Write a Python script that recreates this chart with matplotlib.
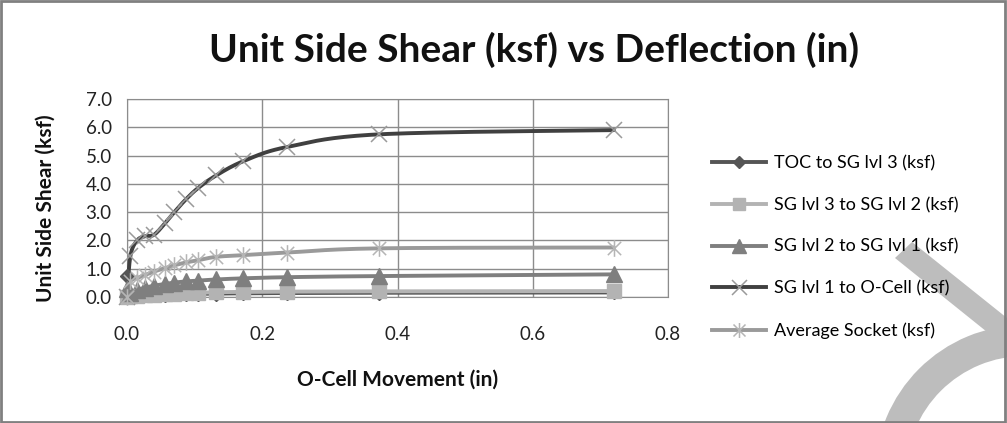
import numpy as np
import matplotlib
matplotlib.use("Agg")
import matplotlib.pyplot as plt
from matplotlib.path import Path
from matplotlib.patches import Wedge, Polygon, Rectangle
from matplotlib.lines import Line2D
from matplotlib.transforms import IdentityTransform

# ---------------- data ----------------
movement = [0.0, 0.005, 0.015, 0.027, 0.040, 0.056, 0.070, 0.087, 0.105, 0.132, 0.172, 0.236, 0.372, 0.720]
toc_sg3 = [0.75, 0.05, 0.05, 0.06, 0.07, 0.08, 0.09, 0.10, 0.11, 0.12, 0.13, 0.14, 0.15, 0.16]
sg3_sg2 = [0.0, 0.02, 0.04, 0.06, 0.08, 0.10, 0.12, 0.14, 0.15, 0.17, 0.18, 0.19, 0.20, 0.21]
sg2_sg1 = [0.30, 0.15, 0.25, 0.33, 0.40, 0.46, 0.51, 0.55, 0.58, 0.62, 0.66, 0.70, 0.74, 0.80]
sg1_ocell = [0.0, 1.45, 2.0, 2.15, 2.2, 2.6, 3.0, 3.45, 3.85, 4.3, 4.8, 5.3, 5.75, 5.9]
avg_socket = [0.0, 0.55, 0.67, 0.78, 0.90, 1.02, 1.12, 1.22, 1.30, 1.42, 1.48, 1.57, 1.72, 1.75]

series_names = ["TOC to SG lvl 3 (ksf)", "SG lvl 3 to SG lvl 2 (ksf)",
                "SG lvl 2 to SG lvl 1 (ksf)", "SG lvl 1 to O-Cell (ksf)",
                "Average Socket (ksf)"]
x_ticks = [0.0, 0.2, 0.4, 0.6, 0.8]
y_ticks = [0.0, 1.0, 2.0, 3.0, 4.0, 5.0, 6.0, 7.0]

W, H = 1007, 423
fig = plt.figure(figsize=(W / 100, H / 100), dpi=100)
FONT = "Lato"

def fx(px):
    return px / W

def fy(py):
    return 1 - py / H

# plot area
L, R, T, B = 127, 668, 99, 297
ax = fig.add_axes([fx(L), fy(B), (R - L) / W, (B - T) / H])
ax.set_xlim(0, 0.8)
ax.set_ylim(0, 7.0)
ax.set_xticks(x_ticks)
ax.set_yticks(y_ticks)
ax.set_xticklabels([f"{v:.1f}" for v in x_ticks], fontfamily=FONT, fontsize=13.5)
ax.set_yticklabels([f"{v:.1f}" for v in y_ticks], fontfamily=FONT, fontsize=13.5)
ax.tick_params(axis="x", length=0, pad=21, colors="#222222")
ax.tick_params(axis="y", length=0, pad=11, colors="#222222")
ax.grid(True, color="#8c8c8c", linewidth=1.0)
ax.set_axisbelow(True)
for s in ax.spines.values():
    s.set_color("#8c8c8c")

def smooth(xs, ys, n=20):
    xs = np.asarray(xs, float)
    ys = np.asarray(ys, float)
    sx = xs / 0.8 * (R - L)
    sy = ys / 7.0 * (B - T)
    P = np.column_stack([sx, sy])
    P = np.vstack([P[0], P, P[-1]])
    out = []
    for i in range(1, len(P) - 2):
        p0, p1, p2, p3 = P[i - 1], P[i], P[i + 1], P[i + 2]
        t = np.linspace(0, 1, n, endpoint=False)[:, None]
        c = 0.5 * ((2 * p1) + (-p0 + p2) * t + (2 * p0 - 5 * p1 + 4 * p2 - p3) * t ** 2
                   + (-p0 + 3 * p1 - 3 * p2 + p3) * t ** 3)
        out.append(c)
    out.append(P[-2][None, :])
    out = np.vstack(out)
    return out[:, 0] / (R - L) * 0.8, out[:, 1] / (B - T) * 7.0

star = Path([(-1, -1), (1, 1), (-1, 1), (1, -1), (0, -1.25), (0, 1.25)],
            [Path.MOVETO, Path.LINETO, Path.MOVETO, Path.LINETO, Path.MOVETO, Path.LINETO])

styles = [
    dict(data=toc_sg3, color="#555555", marker="D", mfc="#555555", mec="#555555", ms=7, mew=1),
    dict(data=sg3_sg2, color="#b3b3b3", marker="s", mfc="#b3b3b3", mec="#b3b3b3", ms=10, mew=1),
    dict(data=sg2_sg1, color="#7f7f7f", marker="^", mfc="#7f7f7f", mec="#7f7f7f", ms=11, mew=1),
    dict(data=sg1_ocell, color="#404040", marker="x", mfc="none", mec="#9a9a9a", ms=12, mew=1.1),
    dict(data=avg_socket, color="#9a9a9a", marker=star, mfc="none", mec="#b5b5b5", ms=12, mew=1.1),
]

handles = []
for name, st in zip(series_names, styles):
    sxs, sys_ = smooth(movement, st["data"])
    ax.plot(sxs, sys_, color=st["color"], lw=2.8, solid_capstyle="round", clip_on=False, zorder=3)
    ax.plot(movement, st["data"], ls="none", marker=st["marker"], mfc=st["mfc"], mec=st["mec"],
            ms=st["ms"], mew=st["mew"], clip_on=False, zorder=4)
    handles.append(Line2D([], [], color=st["color"], lw=2.8, marker=st["marker"], mfc=st["mfc"],
                          mec=st["mec"], ms=st["ms"] * 0.9, mew=st["mew"]))

# titles / labels
fig.text(fx(534), fy(50), "Unit Side Shear (ksf) vs Deflection (in)", ha="center", va="center",
         fontfamily=FONT, fontweight="bold", fontsize=28, color="#111111")
fig.text(fx(46), fy(208), "Unit Side Shear (ksf)", ha="center", va="center", rotation=90,
         fontfamily=FONT, fontweight="bold", fontsize=15, color="#111111")
fig.text(fx(398), fy(380), "O-Cell Movement (in)", ha="center", va="center",
         fontfamily=FONT, fontweight="bold", fontsize=15, color="#111111")

# watermark shapes in pixel space (origin bottom-left)
wm = "#bdbdbd"
def pix(x, y):
    return (x, H - y)

band = Polygon([pix(912, 242), pix(1007, 318), pix(1007, 348), pix(895, 258)], closed=True,
               transform=IdentityTransform(), facecolor=wm, edgecolor="none", zorder=0.5)
fig.patches.append(band)
ring = Wedge(pix(1025, 475), 150, 0, 360, width=31, transform=IdentityTransform(),
             facecolor=wm, edgecolor="none", zorder=0.5)
fig.patches.append(ring)

leg = fig.legend(handles, series_names, loc="upper left", bbox_to_anchor=(fx(705), fy(148)),
                 frameon=False, prop=dict(family=FONT, size=13), handlelength=3.0,
                 handletextpad=0.4, labelspacing=1.42, borderaxespad=0)

# outer border
fig.patches.append(Rectangle((0.001, 0.002), 0.997, 0.996, transform=fig.transFigure,
                             fill=False, edgecolor="#808080", linewidth=2, zorder=10))

fig.savefig("out.png", dpi=100)
